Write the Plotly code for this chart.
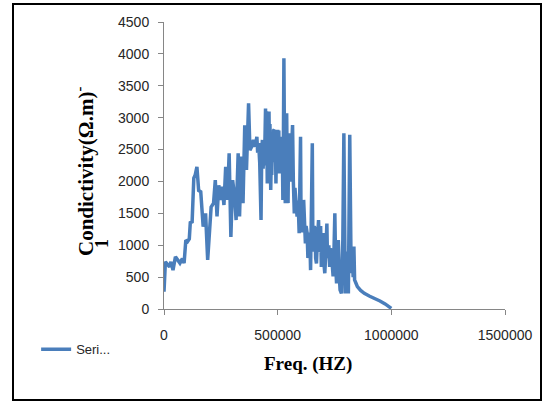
import plotly.graph_objects as go

freq = [0, 6100, 15200, 24400, 30500, 39600, 50300, 61000, 70100, 80800, 88400,
        96000, 103700, 111300, 115900, 123500, 131100, 137200, 144800, 152400,
        161600, 172300, 182900, 192100, 199700, 207300, 218000, 225600, 233200,
        240900, 250000, 256100, 263700, 271300, 279000, 286600, 294200, 301800,
        311000, 317100, 326200, 332300, 339900, 347600, 355200, 362800, 372000,
        378000, 385700, 393300, 400900, 408500, 412000, 416200, 421000, 426800,
        430000, 432900, 436000, 439000, 442000, 446600, 449000, 451000, 454300,
        457000, 459000, 461900, 464000, 466000, 469500, 472000, 474000, 477100,
        480000, 482000, 484800, 487000, 490000, 492400, 495000, 497000, 500000,
        503000, 505000, 507600, 510000, 512000, 515200, 518000, 520000, 522900,
        525000, 527400, 530000, 533500, 536000, 539600, 542000, 545700, 548000,
        551800, 554000, 557900, 561000, 565500, 569000, 573200, 576000, 579300,
        582000, 585400, 590000, 594500, 600600, 603000, 606700, 610000, 614300,
        618000, 622000, 625000, 629600, 633000, 637200, 641000, 644800, 652400,
        655000, 658500, 661000, 664600, 667000, 670700, 675000, 679900, 683000,
        686000, 689000, 692100, 696000, 701200, 704000, 707300, 712000, 716500,
        719000, 722600, 725000, 728700, 732000, 736300, 740000, 743900, 747000,
        751500, 755000, 759100, 763000, 766800, 770000, 774400, 780500, 786600,
        791200, 797300, 801000, 804900, 808000, 811000, 817100, 823200, 826000,
        829300, 832000, 835400, 838400, 845000, 850600, 865000, 881100, 905000,
        926800, 950000, 972600, 1000000]

conductivity = [270, 740, 700, 660, 740, 610, 820, 770, 720, 790, 720,
                1080, 1060, 1100, 1370, 1350, 2050, 2100, 2230, 1860,
                1840, 1290, 1500, 770, 1190, 1600, 1660, 2020, 1450,
                1940, 1710, 1920, 1630, 2230, 1710, 2440, 1130, 2020,
                1760, 1395, 2440, 1450, 2390, 1660, 2880, 2180, 3225,
                2490, 2545, 2650, 2545, 2700, 2450, 2600, 2300, 1395,
                2500, 2650, 2200, 2500, 2250, 3145, 2400, 3100, 1970,
                2600, 2100, 3095, 2300, 2900, 1865, 2400, 2100, 2650,
                2300, 2800, 2810, 2300, 2700, 1970, 2600, 2200, 2810,
                2400, 2800, 2125, 2600, 2300, 2700, 2400, 2700, 1710,
                2500, 3930, 2500, 1660, 2300, 3070, 2200, 1660, 2500,
                2755, 2000, 2125, 2500, 2885, 2000, 1500, 1900, 1760,
                1500, 1450, 1700, 1190, 2700, 1300, 1600, 1200, 1710,
                1100, 1030, 1300, 1190, 800, 925, 1200, 610, 2600,
                900, 1080, 1300, 1240, 800, 715, 1100, 1395, 900,
                925, 1300, 660, 1000, 1190, 700, 560, 900, 1340,
                800, 870, 1000, 660, 950, 870, 700, 510, 800,
                1500, 700, 400, 900, 1080, 600, 300, 245, 1080,
                2755, 245, 800, 455, 900, 245, 2730, 560, 900,
                770, 500, 980, 455, 400, 350, 290, 245, 200,
                170, 125, 80, 10]

x_ticks = [0, 500000, 1000000, 1500000]
y_ticks = [0, 500, 1000, 1500, 2000, 2500, 3000, 3500, 4000, 4500]

fig = go.Figure()
fig.add_trace(go.Scatter(x=freq, y=conductivity, mode="lines", name="Seri...",
                         line=dict(color="#4A7EBB", width=3.5)))

axis_font = dict(family="Liberation Sans", size=14, color="#262626")
fig.update_layout(
    width=543, height=403,
    margin=dict(l=164, r=38, t=22, b=94),
    paper_bgcolor="white", plot_bgcolor="white",
    showlegend=True,
    legend=dict(x=-0.375, y=-0.14, xanchor="left", yanchor="middle",
                font=dict(family="Liberation Sans", size=13, color="#262626"),
                bgcolor="rgba(0,0,0,0)"),
    xaxis=dict(range=[0, 1500000], tickvals=x_ticks, tickformat="d",
               showgrid=False, zeroline=False, showline=True,
               linecolor="#868686", linewidth=1, ticks="outside", ticklen=5,
               tickcolor="#868686", tickfont=axis_font, ticklabelstandoff=8),
    yaxis=dict(range=[0, 4500], tickvals=y_ticks, tickformat="d",
               showgrid=False, zeroline=False, showline=True,
               linecolor="#868686", linewidth=1, ticks="outside", ticklen=5,
               tickcolor="#868686", tickfont=axis_font, ticklabelstandoff=6),
)

fig.add_annotation(text="<b>Freq. (HZ)</b>", xref="paper", yref="paper",
                   x=(308 - 164) / 341, y=(309 - 364) / 287,
                   showarrow=False, xanchor="center", yanchor="middle",
                   font=dict(family="Liberation Serif", size=19, color="black"))
fig.add_annotation(text="<b>Condictivity(Ω.m)<sup>-</sup></b>", xref="paper", yref="paper",
                   x=(85 - 164) / 341, y=(309 - 172) / 287, textangle=-90,
                   showarrow=False, xanchor="center", yanchor="middle",
                   font=dict(family="Liberation Serif", size=21, color="black"))
fig.add_annotation(text="<b>1</b>", xref="paper", yref="paper",
                   x=(102 - 164) / 341, y=(309 - 244) / 287, textangle=-90,
                   showarrow=False, xanchor="center", yanchor="middle",
                   font=dict(family="Liberation Serif", size=18, color="black"))

fig.add_shape(type="rect", xref="paper", yref="paper",
              x0=(13 - 164) / 341, x1=(541 - 164) / 341,
              y0=(309 - 400) / 287, y1=(309 - 4) / 287,
              line=dict(color="black", width=2), fillcolor="rgba(0,0,0,0)")

fig.write_html("out.html", config={"displayModeBar": False},
               post_script="document.body.style.margin='0';document.body.style.overflow='hidden';")
